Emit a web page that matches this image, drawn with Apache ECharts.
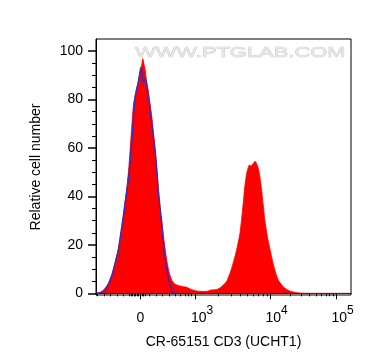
<!DOCTYPE html>
<html><head><meta charset="utf-8">
<script src="https://cdn.jsdelivr.net/npm/echarts@6/dist/echarts.min.js"></script>
<style>html,body{margin:0;padding:0;background:#fff}#c{width:372px;height:364px}</style>
</head><body><div id="c"></div>
<script>
// x in display channels (0-1024, biexponential display), y = relative cell number
const redX = [0,16,32,49,64,76,90,103,112,123,131,137,143,150,157,163,171,177,183,188,193,197,204,209,214,224,231,237,244,250,259,268,276,284,293,304,317,331,345,364,382,404,422,445,458,485,498,511,525,538,548,558,568,578,585,592,598,605,610,616,622,626,633,639,645,652,659,665,672,679,689,699,712,723,732,743,752,767,786,803,819,859,1024];
const redY = [0,0.3,1.5,4,8,12.4,18.5,26.2,34,42.8,51,59.3,68,77.3,81.5,84.2,88,91,94,96.9,94.5,92.5,87,84,80.7,73,66,59.3,51,42.8,33,26.2,19.5,13.8,9,5.5,3.8,3.2,2.8,2.5,1.6,1.0,0.8,0.8,1.3,1.6,2.2,3.4,5,8.3,11.5,15.2,19.5,24.8,31,38,44.5,49.5,51.5,53,52.5,53,53.8,54.5,53.5,51.5,47.5,42.8,36,29.5,23,18,12,8,5.5,3.8,2.7,1.5,0.7,0.3,0.1,0,0];
const blueX = [3,20,36,49,63,76,90,100,110,120,130,137,143,149,154,159,163,169,173,177,180,184,187,190,195,201,206,210,217,224,230,237,244,250,257,264,270,277,284,290,297,304,310,317,329];
const blueY = [0,0.4,1.4,3.5,6.9,12,17.9,25,31.7,39.5,46.9,54,62,70,78.7,82,84.2,86.5,89,91.5,93.2,91,88,87,88.5,87.6,84.5,81.4,76,70.4,65,59.3,51,42.8,35.5,29,22,15.2,10.5,6.9,3.8,1.4,0.5,0.1,0];
const xMajorTicks = [178, 400, 699, 964];
const xTickLabels = ['0', '10^3', '10^4', '10^5'];
const xMinorTicks = [5,32,59,86,110,135,141,147,153,159,165,171,185,191,197,213,241,267,293,317,337,357,371,384,490,543,580,609,633,653,670,686,779,825,858,884,905,923,938,952];
const yMajorTicks = [0, 20, 40, 60, 80, 100];
const yMinorTicks = [5,10,15,25,30,35,45,50,55,65,70,75,85,90,95];
const xTitle = 'CR-65151 CD3 (UCHT1)';
const yTitle = 'Relative cell number';
const watermark = 'WWW.PTGLAB.COM';

const FONT = '"Liberation Sans", Arial, sans-serif';
const chart = echarts.init(document.getElementById('c'), null, {renderer: 'canvas'});
const redData = redX.map((x, i) => [x, redY[i]]);
const blueData = blueX.map((x, i) => [x, blueY[i]]);

chart.setOption({
  animation: false,
  backgroundColor: '#fff',
  grid: {left: 96, right: 21, top: 39, bottom: 69, show: true, borderColor: '#000', borderWidth: 1, backgroundColor: 'transparent'},
  xAxis: [{
    type: 'value', min: 0, max: 1024, position: 'bottom',
    name: xTitle, nameLocation: 'middle', nameGap: 40,
    nameTextStyle: {fontFamily: FONT, fontSize: 14, color: '#000'},
    axisLine: {show: true, lineStyle: {color: '#000', width: 1}},
    axisTick: {show: true, customValues: xMajorTicks, length: 6, lineStyle: {color: '#000', width: 1}},
    splitLine: {show: false},
    axisLabel: {
      customValues: xMajorTicks, margin: 13, color: '#000', fontFamily: FONT,
      formatter: function (v) {
        const t = xTickLabels[xMajorTicks.indexOf(v)];
        if (t.indexOf('^') < 0) return '{z|' + t + '}';
        const p = t.split('^');
        return '{b|' + p[0] + '}{s|' + p[1] + '}';
      },
      rich: {
        z: {fontSize: 14, lineHeight: 14, padding: [7, 0, 0, 0], fontFamily: FONT, color: '#000'},
        b: {fontSize: 14, lineHeight: 14, padding: [7, 0, 0, 13], fontFamily: FONT, color: '#000'},
        s: {fontSize: 12, lineHeight: 12, padding: [0, 0, 9, 0], fontFamily: FONT, color: '#000'}
      }
    }
  }, {
    type: 'value', min: 0, max: 1024, position: 'bottom', offset: 0,
    axisLine: {show: false},
    axisTick: {show: true, customValues: xMinorTicks, length: 3, lineStyle: {color: '#000', width: 1}},
    axisLabel: {show: false}, splitLine: {show: false}
  }],
  yAxis: [{
    type: 'value', min: -0.7, max: 105, position: 'left',
    name: yTitle, nameLocation: 'middle', nameGap: 53, nameRotate: 90,
    nameTextStyle: {fontFamily: FONT, fontSize: 14, color: '#000'},
    axisLine: {show: true, lineStyle: {color: '#000', width: 1}},
    axisTick: {show: true, customValues: yMajorTicks, length: 8, lineStyle: {color: '#000', width: 1.5}},
    axisLabel: {customValues: yMajorTicks, margin: 13, fontFamily: FONT, fontSize: 14, color: '#000'},
    splitLine: {show: false}
  }, {
    type: 'value', min: -0.7, max: 105, position: 'left', offset: 0,
    axisLine: {show: false},
    axisTick: {show: true, customValues: yMinorTicks, length: 4, lineStyle: {color: '#000', width: 1}},
    axisLabel: {show: false}, splitLine: {show: false}
  }],
  series: [{
    type: 'line', data: redData, xAxisIndex: 0, yAxisIndex: 0,
    showSymbol: false, smooth: 0.2,
    lineStyle: {color: '#ff0000', width: 0.8},
    areaStyle: {color: '#ff0000', opacity: 1},
    z: 2
  }, {
    type: 'line', data: blueData, xAxisIndex: 0, yAxisIndex: 0,
    showSymbol: false, smooth: 0.2,
    lineStyle: {color: '#3a2bb8', width: 1.5},
    z: 3
  }],
  graphic: [{
    type: 'text', x: 135, y: 45, scaleX: 1.46, z: 100,
    style: {text: watermark, font: '15px ' + FONT, fill: '#e6e6e6', stroke: '#c2c2c2', lineWidth: 0.6, verticalAlign: 'top'}
  }]
});
</script>
</body></html>
